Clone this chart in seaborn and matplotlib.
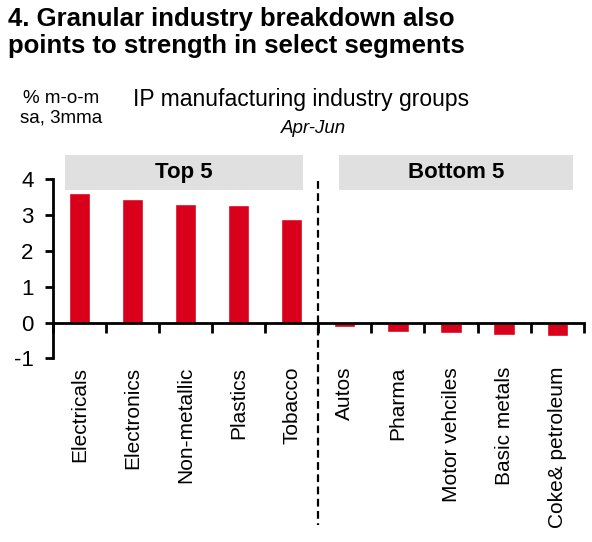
import numpy as np
import pandas as pd

import matplotlib
matplotlib.use('Agg')
import matplotlib.pyplot as plt
from matplotlib.patches import Rectangle
import seaborn as sns

sns.set_style('white')
plt.rcParams['font.family'] = ['Liberation Sans', 'DejaVu Sans']
plt.rcParams['text.color'] = 'black'
plt.rcParams['axes.labelcolor'] = 'black'
plt.rcParams['xtick.color'] = 'black'
plt.rcParams['ytick.color'] = 'black'
plt.rcParams['axes.unicode_minus'] = False

# Data
categories = ['Electricals', 'Electronics', 'Non-metallic', 'Plastics', 'Tobacco',
              'Autos', 'Pharma', 'Motor vehciles', 'Basic metals', 'Coke& petroleum']
values = [3.62, 3.44, 3.32, 3.28, 2.89, -0.12, -0.26, -0.28, -0.35, -0.37]
groups = ['Top 5', 'Bottom 5']
yticks = [-1, 0, 1, 2, 3, 4]

RED = '#d9001b'
GREY = '#e0e0e0'

df = pd.DataFrame({'industry': categories, 'mom': values})

fig = plt.figure(figsize=(5.92, 5.42), dpi=100)
ax = fig.add_axes([0.0895, 0.3386, 0.8965, 0.3306])

sns.barplot(data=df, x='industry', y='mom', color=RED, width=0.4,
            saturation=1, ax=ax)

ax.set_xlim(-0.5, len(categories) - 0.5)
ax.set_ylim(-1, 4)
ax.set_xlabel('')
ax.set_ylabel('')

# axes styling
for s in ['top', 'right']:
    ax.spines[s].set_visible(False)
ax.spines['bottom'].set_position(('data', 0))
for s in ['bottom', 'left']:
    ax.spines[s].set_linewidth(2)
    ax.spines[s].set_color('black')

ax.set_yticks(yticks)
ax.tick_params(axis='y', direction='out', length=6, width=2, labelsize=16,
               left=True, pad=8)
ax.set_xticks(np.arange(len(categories) + 1) - 0.5)
ax.set_xticklabels([])
ax.tick_params(axis='x', direction='out', length=7, width=2, bottom=True)

# category labels below the plotting area
sec = ax.secondary_xaxis(0.0)
sec.set_xticks(range(len(categories)))
sec.set_xticklabels(categories, rotation=90, fontsize=15)
sec.tick_params(length=0, pad=6)
sec.spines['bottom'].set_visible(False)

# group header boxes
box_spans = [(-0.28, 4.22), (4.88, 9.3)]
for (x0, x1), name in zip(box_spans, groups):
    ax.add_patch(Rectangle((x0, 3.71), x1 - x0, 0.97, facecolor=GREY,
                           edgecolor='none', clip_on=False, zorder=0))
    ax.text((x0 + x1) / 2, 4.195, name, ha='center', va='center',
            fontsize=16, fontweight='bold', clip_on=False)

# divider between top and bottom groups
ax.plot([4.5, 4.5], [3.94, -5.65], color='black', lw=1.6,
        dashes=(3.5, 2), clip_on=False)

# titles
fig.text(0.014, 0.987, '4. Granular industry breakdown also\npoints to strength in select segments',
         ha='left', va='top', fontsize=18.5, fontweight='bold', linespacing=1.15)
fig.text(61 / 592, 1 - 90 / 542, '% m-o-m\nsa, 3mma', ha='center', va='top',
         fontsize=13.5, linespacing=1.2)
fig.text(133 / 592, 1 - 88 / 542, 'IP manufacturing industry groups', ha='left',
         va='top', fontsize=16.5)
fig.text(313 / 592, 1 - 120 / 542, 'Apr-Jun', ha='center', va='top',
         fontsize=13.5, style='italic')

plt.savefig('out.png', dpi=100)
plt.close()
